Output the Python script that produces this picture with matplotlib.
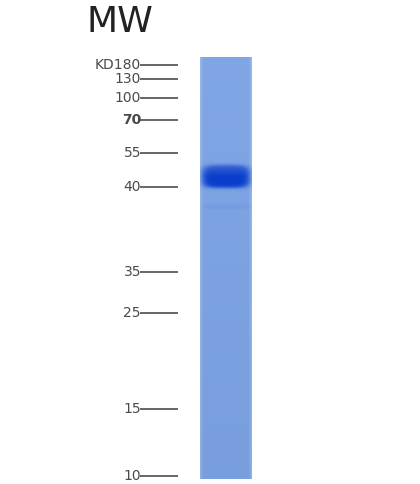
import numpy as np
import matplotlib.pyplot as plt

# marker ladder (kDa) and where each one sits on the gel image (pixel rows)
marker_kda = ['KD180', '130', '100', '70', '55', '40', '35', '25', '15', '10']
marker_row = [65, 79, 98, 120, 153, 187, 272, 313, 409, 476]
marker_bold = [False, False, False, True, False, False, False, False, False, False]

# sample lane: main band and a faint one under it
band_row = [176, 206]
band_strength = [1.0, 0.06]
band_width = [11.5, 3.0]

lane_top, lane_bottom = 57, 479
lane_left, lane_right = 200, 252

fig = plt.figure(figsize=(4.2, 4.84), dpi=100)
ax = fig.add_axes([0, 0, 1, 1])
ax.set_xlim(0, 420)
ax.set_ylim(484, 0)
ax.axis('off')

# build the lane picture
rows = np.arange(lane_top, lane_bottom, 0.5)
cols = np.linspace(0, 1, 104)
base = np.array([0.47, 0.62, 0.87])
dark = np.array([0.04, 0.24, 0.80])
lane = np.tile(base, (len(rows), len(cols), 1))
# lighter edges of the lane
edge = np.clip(1 - np.minimum(cols, 1 - cols) / 0.06, 0, 1)[None, :, None]
lane = lane * (1 - 0.35 * edge) + 0.35 * edge * np.array([0.75, 0.83, 0.96])
lane = lane + (0.03 * (1 - (rows - lane_top) / (lane_bottom - lane_top)))[:, None, None]
xx = (cols - 0.5) / 0.45
for r, s, w in zip(band_row, band_strength, band_width):
    yy = (rows - r) / w
    d = (np.abs(xx)[None, :] ** 4 + np.abs(yy)[:, None] ** 4) ** 0.25
    a = s / (1 + np.exp((d - 1) * 12))
    # upper half fades a bit
    a = a * np.where(yy[:, None] < 0, 0.6 + 0.4 * (1 + yy[:, None]), 1)
    lane = lane * (1 - a[..., None]) + dark * a[..., None]
lane = np.clip(lane, 0, 1)
ax.imshow(lane, extent=[lane_left, lane_right, lane_bottom, lane_top],
          aspect='auto', interpolation='bilinear', zorder=1)

# ladder ticks and labels
for lab, r, b in zip(marker_kda, marker_row, marker_bold):
    ax.plot([140, 178], [r, r], color='#666666', lw=1.4, solid_capstyle='butt')
    ax.text(141, r, lab, ha='right', va='center', fontsize=10,
            color='#4a4a4a', fontweight='bold' if b else 'normal',
            family='DejaVu Sans')

ax.text(86, 22, 'MW', ha='left', va='center', fontsize=26, color='#222222',
        family='DejaVu Sans')

fig.savefig('out.png', dpi=100)
